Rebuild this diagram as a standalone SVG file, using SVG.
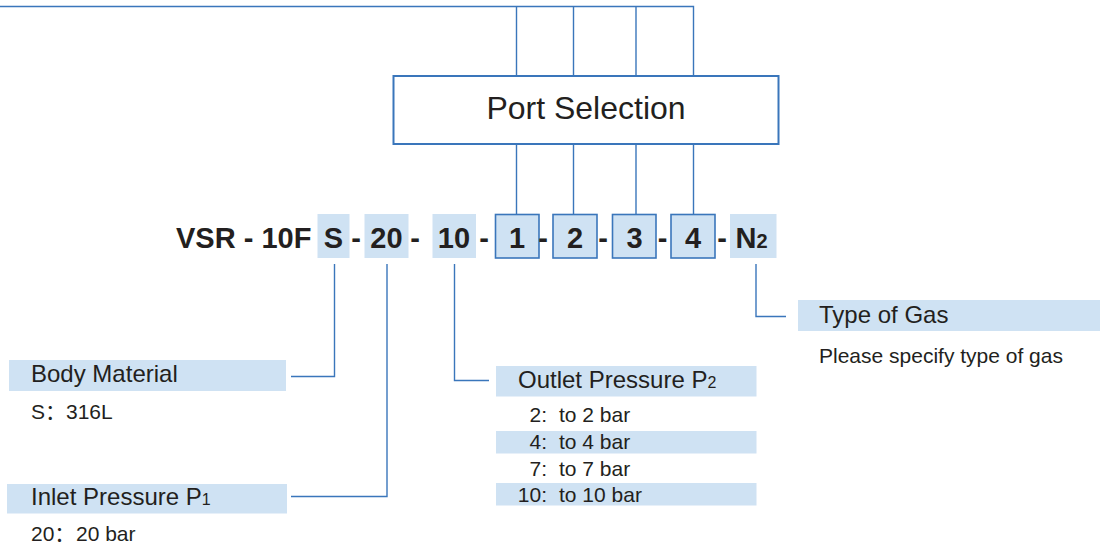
<svg xmlns="http://www.w3.org/2000/svg" width="1100" height="547" viewBox="0 0 1100 547">
<style>
.ln{fill:none;stroke:#3a76bb;stroke-width:1.4}
.band{fill:#cfe2f3}
.t{font-family:"Liberation Sans","Noto Sans CJK SC",Arial,sans-serif;fill:#231f20}
.code{font-family:"Liberation Sans",Arial,sans-serif;font-weight:bold;font-size:29px;fill:#231f20}
.cbox{fill:#cfe2f3;stroke:#3a76bb;stroke-width:1.6}
.title{font-size:24px}
.small{font-size:21px}
</style>
<rect width="1100" height="547" fill="#ffffff"/>
<g id="connectors">
<polyline class="ln" points="0,6.5 693.5,6.5 693.5,76"/>
<line class="ln" x1="516.5" y1="6.5" x2="516.5" y2="76"/>
<line class="ln" x1="573.5" y1="6.5" x2="573.5" y2="76"/>
<line class="ln" x1="636" y1="6.5" x2="636" y2="76"/>
<line class="ln" x1="516.5" y1="144" x2="516.5" y2="214"/>
<line class="ln" x1="573.5" y1="144" x2="573.5" y2="214"/>
<line class="ln" x1="636" y1="144" x2="636" y2="214"/>
<line class="ln" x1="693.5" y1="144" x2="693.5" y2="214"/>
<polyline class="ln" points="334.5,264 334.5,376.5 291,376.5"/>
<polyline class="ln" points="387,264 387,496.5 291,496.5"/>
<polyline class="ln" points="454.5,264 454.5,380.5 489,380.5"/>
<polyline class="ln" points="756,264 756,316.5 786,316.5"/>
</g>
<g id="port-selection">
<rect x="393.5" y="76" width="385" height="68" fill="#ffffff" stroke="#3a76bb" stroke-width="2"/>
<text class="t" x="586" y="119" font-size="32" text-anchor="middle">Port Selection</text>
</g>
<g id="model-code">
<text class="code" x="176" y="248">VSR - 10F</text>
<rect class="band" x="317.5" y="214" width="32" height="44"/>
<text class="code" x="333.5" y="248" text-anchor="middle">S</text>
<text class="code" x="356" y="248" text-anchor="middle">-</text>
<rect class="band" x="364.5" y="214" width="44" height="44"/>
<text class="code" x="386.5" y="248" text-anchor="middle">20</text>
<text class="code" x="415" y="248" text-anchor="middle">-</text>
<rect class="band" x="432.5" y="214" width="43.5" height="44"/>
<text class="code" x="454" y="248" text-anchor="middle">10</text>
<text class="code" x="484" y="248" text-anchor="middle">-</text>
<rect class="cbox" x="495.5" y="214.5" width="43.5" height="43.5"/>
<text class="code" x="517" y="248" text-anchor="middle">1</text>
<text class="code" x="543" y="248" text-anchor="middle">-</text>
<rect class="cbox" x="553" y="214.5" width="44" height="43.5"/>
<text class="code" x="575" y="248" text-anchor="middle">2</text>
<text class="code" x="603" y="248" text-anchor="middle">-</text>
<rect class="cbox" x="612.5" y="214.5" width="43.5" height="43.5"/>
<text class="code" x="634.5" y="248" text-anchor="middle">3</text>
<text class="code" x="662.5" y="248" text-anchor="middle">-</text>
<rect class="cbox" x="671" y="214.5" width="44" height="43.5"/>
<text class="code" x="693" y="248" text-anchor="middle">4</text>
<text class="code" x="722" y="248" text-anchor="middle">-</text>
<rect class="band" x="730" y="214" width="46.5" height="44"/>
<text class="code" x="735.5" y="248">N<tspan font-size="20">2</tspan></text>
</g>
<g id="body-material">
<rect class="band" x="9" y="360" width="277" height="31"/>
<text class="t title" x="31" y="382">Body Material</text>
<text class="t small" x="31" y="419">S<tspan>：</tspan><tspan x="66">316L</tspan></text>
</g>
<g id="inlet-pressure">
<rect class="band" x="7" y="484" width="280" height="29.5"/>
<text class="t title" x="31" y="505">Inlet Pressure P<tspan font-size="16">1</tspan></text>
<text class="t small" x="31" y="541">20<tspan>：</tspan><tspan x="76">20 bar</tspan></text>
</g>
<g id="outlet-pressure">
<rect class="band" x="496" y="366" width="260.5" height="30.5"/>
<text class="t title" x="518" y="387.5">Outlet Pressure P<tspan font-size="16">2</tspan></text>
<rect class="band" x="496" y="431" width="260.5" height="22.5"/>
<rect class="band" x="496" y="483" width="260.5" height="22.5"/>
<text class="t small" x="547" y="422" text-anchor="end">2:</text>
<text class="t small" x="559" y="422">to 2 bar</text>
<text class="t small" x="547" y="449" text-anchor="end">4:</text>
<text class="t small" x="559" y="449">to 4 bar</text>
<text class="t small" x="547" y="475.5" text-anchor="end">7:</text>
<text class="t small" x="559" y="475.5">to 7 bar</text>
<text class="t small" x="547" y="501.5" text-anchor="end">10:</text>
<text class="t small" x="559" y="501.5">to 10 bar</text>
</g>
<g id="type-of-gas">
<rect class="band" x="798" y="300" width="302" height="31"/>
<text class="t title" x="819" y="322.5">Type of Gas</text>
<text class="t small" x="819" y="363">Please specify type of gas</text>
</g>
</svg>
